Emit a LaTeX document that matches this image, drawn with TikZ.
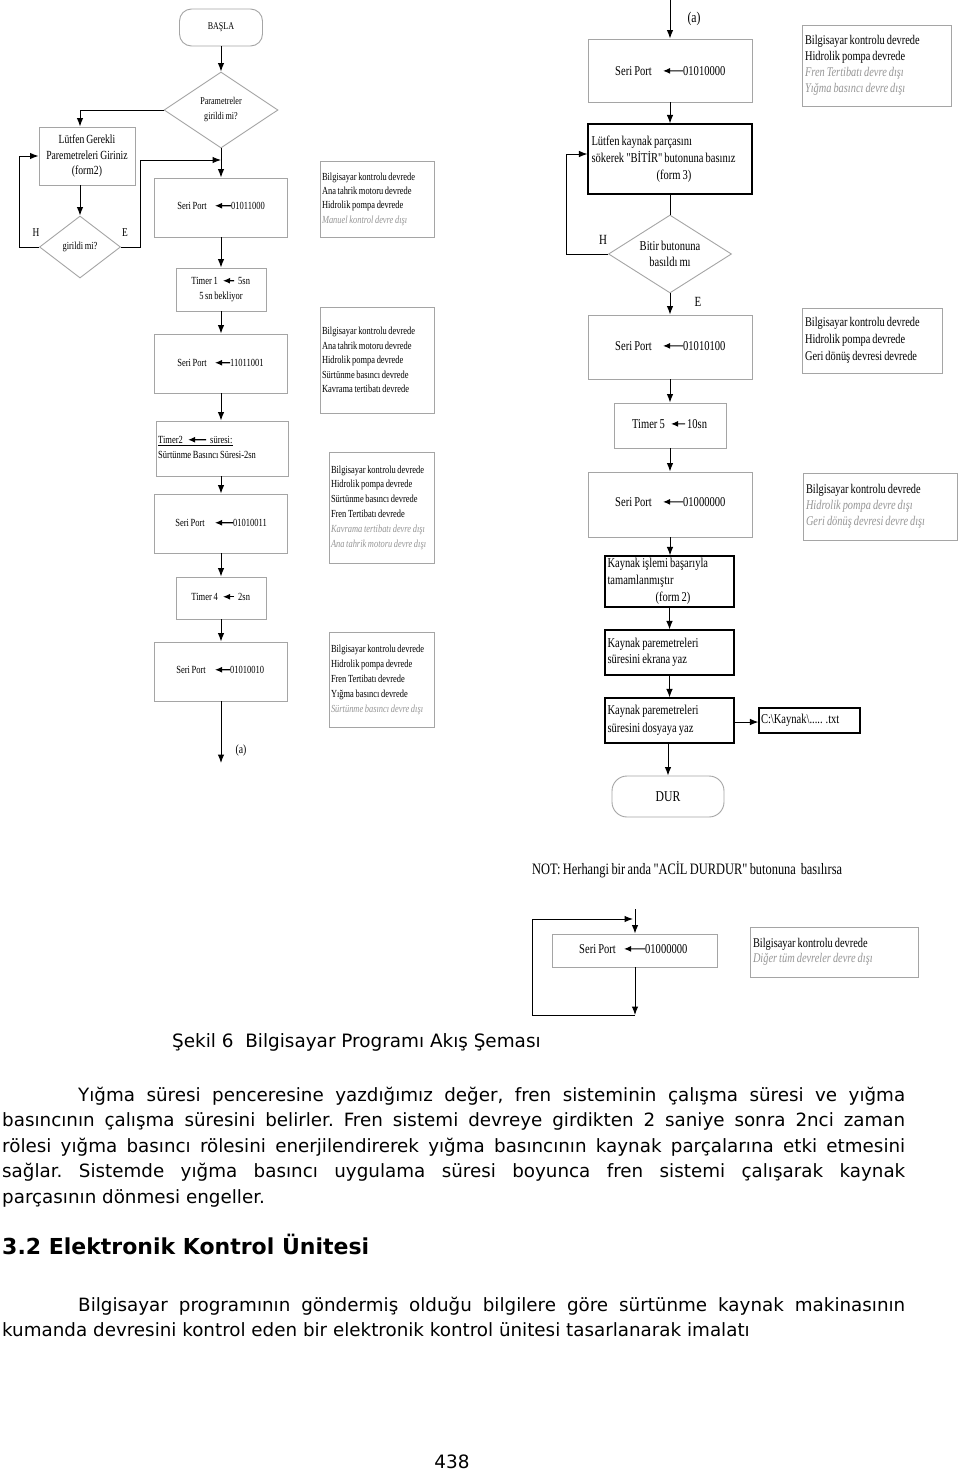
\documentclass[tikz,border=0pt]{standalone}
\usepackage{fontspec}
\setmainfont{Liberation Serif}[FakeStretch=0.78,WordSpace=0.78,Ligatures=TeXOff]
\newfontfamily\bodyfont{DejaVu Sans}
\usetikzlibrary{shapes.geometric,arrows.meta}
\definecolor{boxgray}{RGB}{165,165,165}
\definecolor{txtgray}{RGB}{150,150,150}
\newcommand\fsz[2]{\fontsize{#1pt}{#2pt}\selectfont}
\newcommand\grayit[1]{\textcolor{txtgray}{\itshape #1}}
\newcommand\natsp{\spaceskip=0pt\xspaceskip=0pt\relax}
\begin{document}
\begin{tikzpicture}[x=1pt,y=-1pt,
  gbox/.style={draw=boxgray,line width=0.9pt,inner sep=0pt,execute at begin node=\natsp},
  bbox/.style={draw=black,line width=1.1pt,inner sep=0pt,execute at begin node=\natsp},
  gdia/.style={diamond,draw=boxgray,line width=0.9pt,inner sep=0pt},
  arr/.style={-{Latex[length=8.5pt,width=6.5pt]},line width=1pt},
  sarr/.style={-{Latex[length=7pt,width=6pt]},line width=1.2pt},
  lbl/.style={inner sep=0pt,anchor=mid east},
  val/.style={inner sep=0pt,anchor=mid west},
  txt/.style={inner sep=0pt},
  lf/.style={font=\fsz{10.9}{15}},
  rf/.style={font=\fsz{13.5}{17}},
  sf/.style={font=\fsz{10.8}{14.4}},
  bfnt/.style={font=\fsz{13.3}{16}}]
\fill[white] (0,0) rectangle (960,1475);
\useasboundingbox (0,0) rectangle (960,1475);

% ---------------- left column ----------------
\node[gbox,rounded corners=12pt,minimum width=83pt,minimum height=37pt,font=\fsz{10.3}{12}] (start) at (221,27.5) {BAŞLA};
\node[gdia,shape aspect=1.5,minimum width=114pt,minimum height=76pt,align=center,font=\fsz{10.4}{15}] (d1) at (221,110) {Parametreler\\girildi mi?};
\node[gbox,minimum width=96pt,minimum height=58pt,align=center,font=\fsz{12.4}{15.5}] (form2) at (87,156) {Lütfen Gerekli\\Paremetreleri Giriniz\\(form2)};
\node[gdia,shape aspect=1.3,minimum width=81pt,minimum height=62pt,font=\fsz{10.8}{13}] (d2) at (80,247) {girildi mi?};
\node[txt,font=\fsz{12}{14}] (h1) at (36,233) {H};
\node[txt,font=\fsz{12}{14}] (e1) at (125,233) {E};

\node[gbox,minimum width=133pt,minimum height=59pt] (sp1) at (221,207.5) {};
\node[lbl,lf] (sp1l) at (207,207) {Seri Port};
\node[val,lf] (sp1v) at (231,207) {01011000};

\node[gbox,minimum width=90pt,minimum height=43pt] (t1) at (221,289.5) {};
\node[lbl,lf] (t1l) at (218,282) {Timer 1};
\node[val,lf] (t1v) at (238,282) {5sn};
\node[txt,lf] (t1b) at (221,297) {5 sn bekliyor};

\node[gbox,minimum width=133pt,minimum height=59pt] (sp2) at (221,363.5) {};
\node[lbl,lf] (sp2l) at (207,364) {Seri Port};
\node[val,lf] (sp2v) at (230,364) {11011001};

\node[gbox,minimum width=132pt,minimum height=55pt] (t2) at (222,448.5) {};
\node[val,lf] (t2l) at (158,441) {Timer2};
\node[val,lf] (t2v) at (210,441) {süresi:};
\node[val,lf] (t2b) at (158,456) {Sürtünme Basıncı Süresi-2sn};

\node[gbox,minimum width=133pt,minimum height=59pt] (sp3) at (221,523.5) {};
\node[lbl,lf] (sp3l) at (205,524) {Seri Port};
\node[val,lf] (sp3v) at (233,524) {01010011};

\node[gbox,minimum width=90pt,minimum height=42pt] (t4) at (221,598) {};
\node[lbl,lf] (t4l) at (218,598) {Timer 4};
\node[val,lf] (t4v) at (238,598) {2sn};

\node[gbox,minimum width=133pt,minimum height=59pt] (sp4) at (221,671.5) {};
\node[lbl,lf] (sp4l) at (206,671) {Seri Port};
\node[val,lf] (sp4v) at (230,671) {01010010};
\coordinate (aL) at (221,763);
\node[txt,font=\fsz{12.5}{14}] (aLt) at (241,750) {(a)};

% ---------------- middle info boxes ----------------
\node[gbox,sf,minimum width=114pt,minimum height=76pt,text width=110pt,inner xsep=2pt,align=left] (bA) at (377,199) {Bilgisayar kontrolu devrede\\Ana tahrik motoru devrede\\Hidrolik pompa devrede\\\grayit{Manuel kontrol devre dışı}};
\node[gbox,sf,minimum width=114pt,minimum height=106pt,text width=110pt,inner xsep=2pt,align=left] (bB) at (377,360) {Bilgisayar kontrolu devrede\\Ana tahrik motoru devrede\\Hidrolik pompa devrede\\Sürtünme basıncı devrede\\Kavrama tertibatı devrede};
\node[gbox,font=\fsz{10.8}{14.8},minimum width=105pt,minimum height=111pt,text width=101pt,inner xsep=2pt,align=left] (bC) at (381.5,507.5) {Bilgisayar kontrolu devrede\\Hidrolik pompa devrede\\Sürtünme basıncı devrede\\Fren Tertibatı devrede\\\grayit{Kavrama tertibatı devre dışı}\\\grayit{Ana tahrik motoru devre dışı}};
\node[gbox,font=\fsz{10.8}{15}, minimum width=105pt,minimum height=95pt,text width=101pt,inner xsep=2pt,align=left] (bD) at (381.5,679.5) {Bilgisayar kontrolu devrede\\Hidrolik pompa devrede\\Fren Tertibatı devrede\\Yığma basıncı devrede\\\grayit{Sürtünme basıncı devre dışı}};

% ---------------- right column ----------------
\coordinate (aR) at (670,0);
\node[txt,font=\fsz{15}{17}] (aRt) at (694,19) {(a)};
\node[gbox,minimum width=164pt,minimum height=63pt] (sp5) at (670,70.5) {};
\node[lbl,rf] (sp5l) at (652,73) {Seri Port};
\node[val,rf] (sp5v) at (683,73) {01010000};

\node[bbox,rf,minimum width=164pt,minimum height=70pt,text width=157pt,inner xsep=3.5pt,align=left] (lut) at (670,159) {Lütfen kaynak parçasını\\sökerek "BİTİR" butonuna basınız\\\hspace*{65pt}(form 3)};
\node[gdia,shape aspect=1.6,minimum width=123pt,minimum height=78pt,align=center,font=\fsz{13.5}{16}] (d3) at (670,254) {Bitir butonuna\\basıldı mı};
\node[txt,font=\fsz{14}{16}] (h2) at (603,240) {H};
\node[txt,font=\fsz{14}{16}] (e2) at (698,302) {E};

\node[gbox,minimum width=164pt,minimum height=64pt] (sp6) at (670,347) {};
\node[lbl,rf] (sp6l) at (652,348) {Seri Port};
\node[val,rf] (sp6v) at (683,348) {01010100};

\node[gbox,minimum width=112pt,minimum height=45pt] (t5) at (670,425.5) {};
\node[lbl,rf] (t5l) at (665,426) {Timer 5};
\node[val,rf] (t5v) at (687,426) {10sn};

\node[gbox,minimum width=164pt,minimum height=65pt] (sp7) at (670,504.5) {};
\node[lbl,rf] (sp7l) at (652,504) {Seri Port};
\node[val,rf] (sp7v) at (683,504) {01000000};

\node[bbox,rf,minimum width=129pt,minimum height=51pt,text width=124pt,inner xsep=2.5pt,align=left] (kay1) at (669.5,581.5) {Kaynak işlemi başarıyla\\tamamlanmıştır\\\hspace*{48pt}(form 2)};
\node[bbox,font=\fsz{13.5}{16},minimum width=129pt,minimum height=45pt,text width=124pt,inner xsep=2.5pt,align=left] (kay2) at (669.5,652.5) {Kaynak paremetreleri\\süresini ekrana yaz};
\node[bbox,font=\fsz{13.5}{18},minimum width=129pt,minimum height=45pt,text width=124pt,inner xsep=2.5pt,align=left] (kay3) at (669.5,720.5) {Kaynak paremetreleri\\süresini dosyaya yaz};
\node[bbox,rf,minimum width=101pt,minimum height=25pt,text width=97pt,inner xsep=2pt,align=left] (file) at (809.5,720.5) {C:\textbackslash Kaynak\textbackslash..... .txt};
\node[gbox,rounded corners=15pt,minimum width=112pt,minimum height=41pt,font=\fsz{15}{17}] (dur) at (668,796.5) {DUR};

% ---------------- right info boxes ----------------
\node[gbox,bfnt,minimum width=149pt,minimum height=81pt,text width=143pt,inner xsep=3pt,align=left] (bG) at (876.5,65.5) {Bilgisayar kontrolu devrede\\Hidrolik pompa devrede\\\grayit{Fren Tertibatı devre dışı}\\\grayit{Yığma basıncı devre dışı}};
\node[gbox,font=\fsz{13.3}{17},minimum width=140pt,minimum height=65pt,text width=134pt,inner xsep=3pt,align=left] (bE) at (872,340.5) {Bilgisayar kontrolu devrede\\Hidrolik pompa devrede\\Geri dönüş devresi devrede};
\node[gbox,bfnt,minimum width=154pt,minimum height=67pt,text width=148pt,inner xsep=3pt,align=left] (bF) at (880,506.5) {Bilgisayar kontrolu devrede\\\grayit{Hidrolik pompa devre dışı}\\\grayit{Geri dönüş devresi devre dışı}};

% ---------------- emergency ----------------
\node[txt,anchor=mid west,font=\fsz{15.9}{18}] (note) at (532,872) {NOT: Herhangi bir anda "ACİL DURDUR" butonuna\ \ basılırsa};
\coordinate (et) at (635,909);
\node[gbox,minimum width=165pt,minimum height=33pt] (sp8) at (635,950.5) {};
\node[lbl,rf] (sp8l) at (616,951) {Seri Port};
\node[val,rf] (sp8v) at (645,951) {01000000};
\coordinate (eb) at (635,1015);
\coordinate (ec) at (532,1015);
\coordinate (ein) at (635,919);
\node[gbox,font=\fsz{13.3}{15.5},minimum width=168pt,minimum height=50pt,text width=162pt,inner xsep=3pt,align=left] (bH) at (834,952) {Bilgisayar kontrolu devrede\\\grayit{Diğer tüm devreler devre dışı}};

% ---------------- connectors ----------------
\draw[arr] (start) -- (d1);
\draw[arr] (d1.west) -| ([xshift=-7pt]form2.north);
\draw[arr] ([xshift=-7pt]form2.south) -- (d2.north);
\draw[arr] (d2.west) -- ++(-20,0) |- (form2.west);
\coordinate (j1) at (221,160);
\draw[arr] (d2.east) -- ++(19.5,0) |- (j1);
\draw[arr] (d1.south) -- (sp1.north);
\draw[arr] (sp1) -- (t1);
\draw[arr] (t1) -- (sp2);
\draw[arr] (sp2.south) -- (sp2.south |- t2.north);
\draw[arr] (sp3.north |- t2.south) -- (sp3.north);
\draw[arr] (sp3) -- (t4);
\draw[arr] (t4) -- (sp4);
\draw[arr] (sp4.south) -- (aL);

\draw[arr] (aR) -- (sp5.north);
\draw[arr] (sp5) -- (lut);
\draw[line width=1pt] (lut.south) -- (d3.north);
\draw[arr] (d3.west) -- ++(-41.5,0) |- ([yshift=5pt]lut.west);
\draw[arr] (d3.south) -- (sp6.north);
\draw[arr] (sp6) -- (t5);
\draw[arr] (t5) -- (sp7);
\draw[arr] (sp7.south) -- (sp7.south |- kay1.north);
\draw[arr] (kay1) -- (kay2);
\draw[arr] (kay2) -- (kay3);
\draw[arr] ([yshift=-1.5pt]kay3.east) -- ([yshift=-1.5pt]file.west);
\draw[arr] (dur.north |- kay3.south) -- (dur.north);

\draw[arr] (et) -- (sp8.north);
\draw[arr] (sp8.south) -- (eb);
\draw[arr] (eb) -- (ec) |- ([xshift=-2pt]ein);

% in-box arrows
\draw[sarr] (sp1v.west) -- ([xshift=8pt]sp1l.east);
\draw[sarr] (sp2v.west) -- ([xshift=8pt]sp2l.east);
\draw[sarr] (sp3v.west) -- ([xshift=10pt]sp3l.east);
\draw[sarr] (sp4v.west) -- ([xshift=9pt]sp4l.east);
\draw[sarr] ([xshift=-4pt]t1v.west) -- ([xshift=5pt]t1l.east);
\draw[sarr] ([xshift=-4pt]t4v.west) -- ([xshift=5pt]t4l.east);
\draw[sarr] ([xshift=-4pt]t2v.west) -- ([xshift=5pt]t2l.east);
\draw[line width=0.6pt] ([yshift=-1.8pt]t2l.base west) -- ([yshift=-1.8pt]t2v.base east);
\draw[sarr] (sp5v.west) -- ([xshift=11pt]sp5l.east);
\draw[sarr] (sp6v.west) -- ([xshift=11pt]sp6l.east);
\draw[sarr] ([xshift=-2pt]t5v.west) -- ([xshift=6pt]t5l.east);
\draw[sarr] (sp7v.west) -- ([xshift=11pt]sp7l.east);
\draw[sarr] (sp8v.west) -- ([xshift=8pt]sp8l.east);

% ---------------- text below ----------------
\node[txt,anchor=mid west,font=\bodyfont\fsz{18.4}{22}] (cap) at (172,1045) {Şekil 6\ \ Bilgisayar Programı Akış Şeması};
\node[txt,anchor=base west,font=\bodyfont\fsz{18.3}{25.5}] (p1) at (2,1101) {\parbox[t]{903pt}{\setlength{\parindent}{76pt}\hyphenpenalty=10000 \tolerance=9999 \frenchspacing\indent Yığma süresi penceresine yazdığımız değer, fren sisteminin çalışma süresi ve yığma\linebreak basıncının çalışma süresini belirler. Fren sistemi devreye girdikten 2 saniye sonra 2nci zaman\linebreak rölesi yığma basıncı rölesini enerjilendirerek yığma basıncının kaynak parçalarına etki etmesini\linebreak sağlar. Sistemde yığma basıncı uygulama süresi boyunca fren sistemi çalışarak kaynak\linebreak parçasının dönmesi engeller.}};
\node[txt,anchor=mid west,font=\bodyfont\bfseries\fsz{22}{26}] (h32) at (2,1252) {3.2 Elektronik Kontrol Ünitesi};
\node[txt,anchor=base west,font=\bodyfont\fsz{18.3}{25.5}] (p2) at (2,1311) {\parbox[t]{903pt}{\setlength{\parindent}{76pt}\hyphenpenalty=10000 \tolerance=9999 \indent Bilgisayar programının göndermiş olduğu bilgilere göre sürtünme kaynak makinasının\linebreak kumanda devresini kontrol eden bir elektronik kontrol ünitesi tasarlanarak imalatı}};
\node[txt,font=\bodyfont\fsz{18.4}{22}] (pg) at (452,1462) {438};
\end{tikzpicture}
\end{document}
